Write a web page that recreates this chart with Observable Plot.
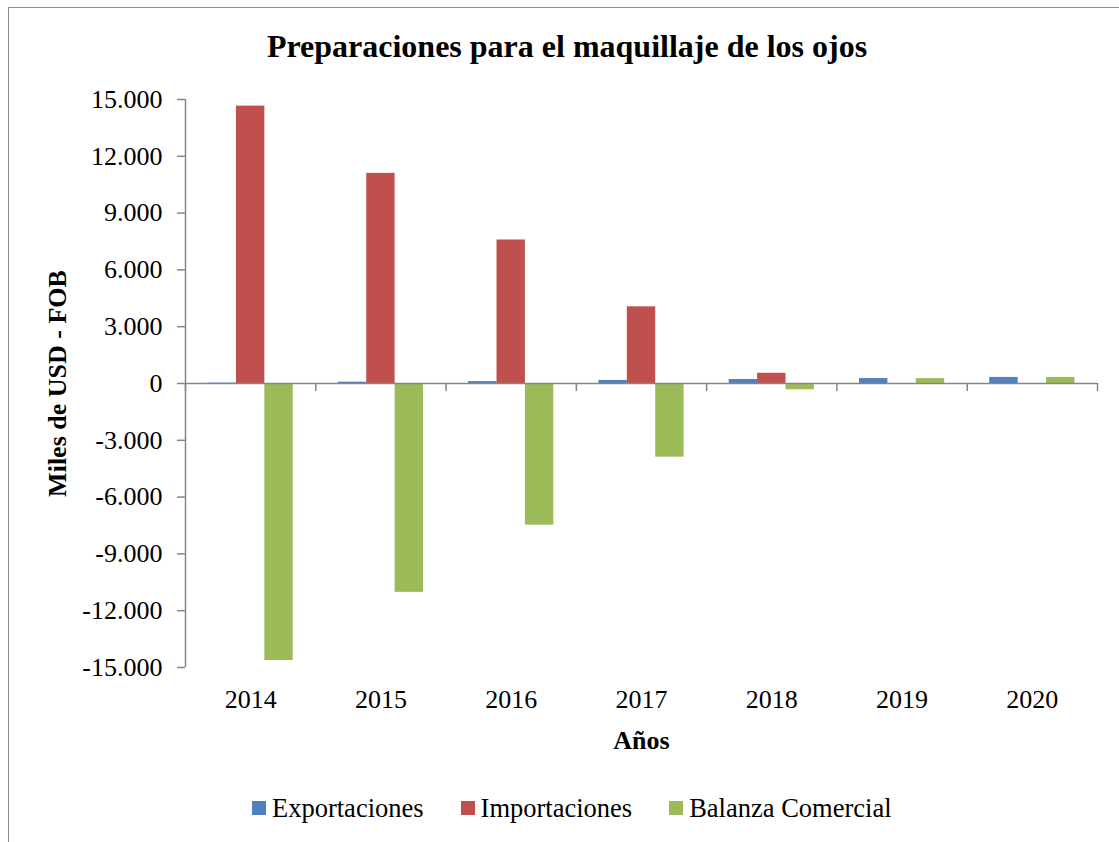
<!DOCTYPE html>
<html>
<head>
<meta charset="utf-8">
<script src="https://cdn.jsdelivr.net/npm/d3@7"></script>
<script src="https://cdn.jsdelivr.net/npm/@observablehq/plot@0.6"></script>
<style>
  html, body { margin: 0; padding: 0; background: #fff; overflow: hidden; }
  body { width: 1119px; height: 842px; position: relative; font-family: "Liberation Serif", "Times New Roman", serif; color: #000; }
  #frame { position: absolute; left: 8px; top: 7px; width: 1200px; height: 900px; border: 1.5px solid #8c8c8c; box-sizing: border-box; }
  #title { position: absolute; left: 0; top: 30px; width: 1134px; text-align: center; font-size: 32px; line-height: 32px; font-weight: bold; }
  #chart { position: absolute; left: 0; top: 76px; }
  #legend { position: absolute; left: 252px; top: 795px; display: flex; align-items: center; font-size: 26.5px; line-height: 26px; white-space: nowrap; }
  .item { display: flex; align-items: center; margin-right: 37px; }
  .sw { width: 14px; height: 14px; margin-right: 6px; }
  g[aria-label$="axis label"] text { font-weight: bold; }
</style>
</head>
<body>
<div id="frame"></div>
<div id="title"></div>
<div id="chart"></div>
<div id="legend"></div>
<script>
const titleText = "Preparaciones para el maquillaje de los ojos";
const yLabel = "Miles de USD - FOB";
const xLabel = "Años";
const years = [2014, 2015, 2016, 2017, 2018, 2019, 2020];
const series = ["Exportaciones", "Importaciones", "Balanza Comercial"];
const colors = ["#4F81BD", "#C0504D", "#9BBB59"];
const exportaciones = [20, 70, 100, 160, 210, 260, 320];
const importaciones = [14650, 11100, 7580, 4050, 540, 0, 0];
const balanza = [-14630, -11030, -7480, -3890, -330, 260, 320];
const yTicks = [-15000, -12000, -9000, -6000, -3000, 0, 3000, 6000, 9000, 12000, 15000];

const grey = "#868686";
const values = [exportaciones, importaciones, balanza];
const data = years.flatMap((yr, j) => series.map((s, i) => ({year: yr, series: s, index: i, value: values[i][j]})));
const boundaries = [years[0] - 0.5, ...years.map(y => y + 0.5)];
const W = 0.218, OFF = (1 - 3 * W) / 2;
const fmt = d3.formatLocale({decimal: ",", thousands: ".", grouping: [3], currency: ["$", ""], minus: "-"}).format(",d");

document.getElementById("title").textContent = titleText;

const plot = Plot.plot({
  width: 1119,
  height: 692,
  marginLeft: 185,
  marginRight: 22,
  marginTop: 23,
  marginBottom: 101,
  style: {fontFamily: "'Liberation Serif', 'Times New Roman', serif", fontSize: "26px", color: "#000", background: "transparent", overflow: "visible"},
  x: {type: "linear", domain: [years[0] - 0.5, years[years.length - 1] + 0.5]},
  y: {domain: [-15000, 15000]},
  color: {domain: series, range: colors},
  marks: [
    Plot.rectY(data, {
      x1: d => d.year - 0.5 + OFF + d.index * W,
      x2: d => d.year - 0.5 + OFF + (d.index + 1) * W,
      y1: 0, y2: "value", fill: "series"
    }),
    Plot.ruleX([years[0] - 0.5], {y1: -15000, y2: 15000, stroke: grey, strokeWidth: 1.5}),
    Plot.ruleY([0], {stroke: grey, strokeWidth: 1.5}),
    Plot.ruleX(boundaries, {y1: 0, y2: 0, insetBottom: -8, stroke: grey, strokeWidth: 1.5}),
    Plot.axisY({ticks: yTicks, tickFormat: fmt, tickSize: 8, tickPadding: 15, stroke: grey, strokeWidth: 1.5,
      label: yLabel, labelAnchor: "center", labelArrow: "none", labelOffset: 138}),
    Plot.axisX({ticks: years, tickFormat: d => String(d), tickSize: 0, tickPadding: 22,
      label: xLabel, labelAnchor: "center", labelArrow: "none", labelOffset: 81})
  ]
});
document.getElementById("chart").appendChild(plot);

const legend = document.getElementById("legend");
series.forEach((s, i) => {
  const it = document.createElement("div");
  it.className = "item";
  const sw = document.createElement("div");
  sw.className = "sw";
  sw.style.background = colors[i];
  const t = document.createElement("span");
  t.textContent = s;
  it.appendChild(sw); it.appendChild(t);
  legend.appendChild(it);
});
</script>
</body>
</html>
